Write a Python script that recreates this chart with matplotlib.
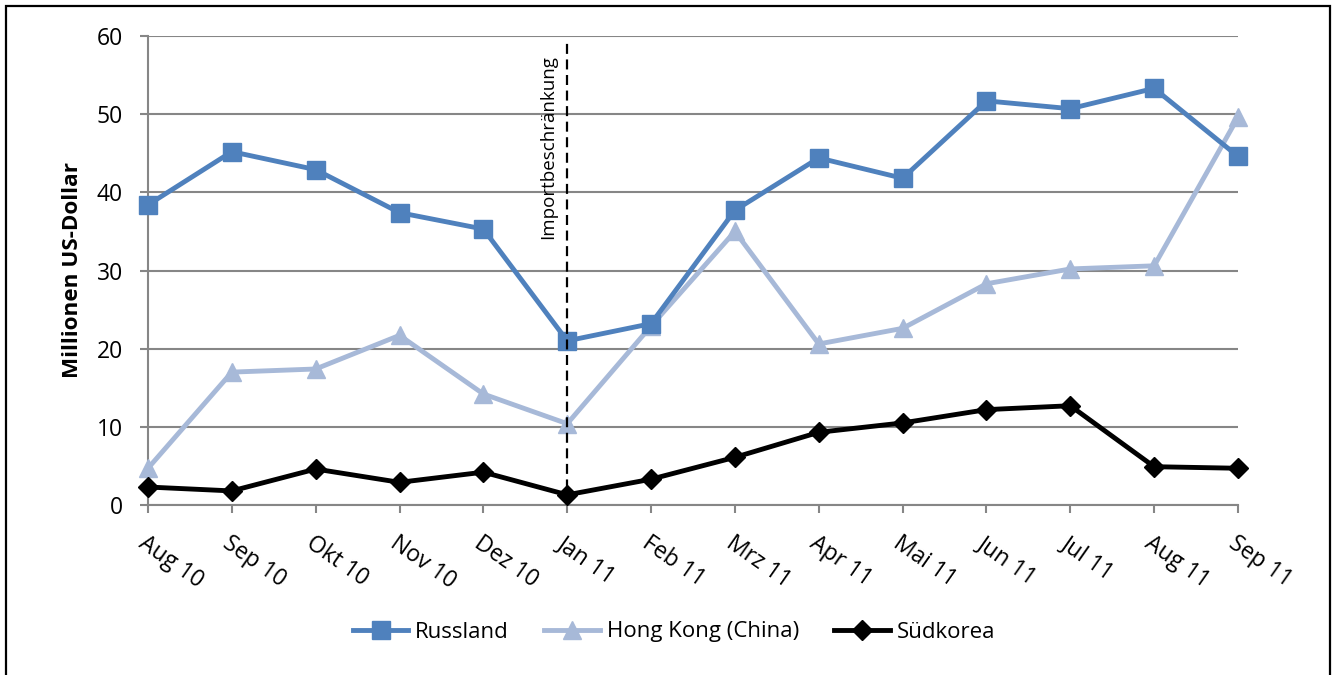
import matplotlib
matplotlib.use("Agg")
import matplotlib.pyplot as plt
from matplotlib.patches import Rectangle
import matplotlib.transforms as mtransforms

months = ["Aug 10", "Sep 10", "Okt 10", "Nov 10", "Dez 10", "Jan 11", "Feb 11",
          "Mrz 11", "Apr 11", "Mai 11", "Jun 11", "Jul 11", "Aug 11", "Sep 11"]
russland = [38.4, 45.2, 42.9, 37.4, 35.3, 21.0, 23.2, 37.7, 44.4, 41.8, 51.7, 50.7, 53.3, 44.6]
hongkong = [4.7, 17.0, 17.4, 21.7, 14.2, 10.4, 22.9, 35.0, 20.6, 22.6, 28.3, 30.2, 30.6, 49.6]
suedkorea = [2.3, 1.8, 4.6, 2.9, 4.2, 1.3, 3.3, 6.1, 9.3, 10.5, 12.2, 12.7, 4.9, 4.7]
yticks = [0, 10, 20, 30, 40, 50, 60]
event_label = "Importbeschränkung"
event_month = "Jan 11"

plt.rcParams['font.family'] = ['Open Sans', 'DejaVu Sans']

fig = plt.figure(figsize=(13.32, 6.75), dpi=100)
ax = fig.add_axes([148/1332, 1-505/675, (1238-148)/1332, (505-36)/675])

x = list(range(len(months)))
grid_c = "#868686"

ax.plot(x, russland, color="#4F81BD", lw=3.5, marker="s", ms=13.5, label="Russland",
        clip_on=False, zorder=4)
ax.plot(x, hongkong, color="#A7B9D8", lw=3.5, marker="^", ms=13, label="Hong Kong (China)",
        clip_on=False, zorder=3)
ax.plot(x, suedkorea, color="black", lw=3.5, marker="D", ms=10, label="Südkorea",
        clip_on=False, zorder=5)

ex = months.index(event_month)
ax.plot([ex, ex], [0, 59.5], color="black", lw=1.6, ls=(0, (4.5, 2.5)), zorder=6)
ax.text(ex - 0.12, 57.6, event_label, rotation=90, ha="right", va="top", fontsize=13.5)

ax.set_xlim(0, len(months) - 1)
ax.set_ylim(0, 60)
ax.set_yticks(yticks)
ax.set_yticklabels([str(v) for v in yticks], fontsize=16.5)
ax.set_xticks(x)
ax.set_xticklabels(months, fontsize=16.5, rotation=-35, ha="left", va="top",
                   rotation_mode="anchor")
offset = mtransforms.ScaledTranslation(5/100, 0, fig.dpi_scale_trans)
for lbl in ax.get_xticklabels():
    lbl.set_transform(lbl.get_transform() + offset)

ax.grid(axis="y", color=grid_c, lw=1.5)
ax.set_axisbelow(True)
for s in ["top", "right"]:
    ax.spines[s].set_visible(False)
for s in ["left", "bottom"]:
    ax.spines[s].set_color(grid_c)
    ax.spines[s].set_linewidth(1.5)
ax.tick_params(axis="y", length=6, width=1.5, color=grid_c, pad=12)
ax.tick_params(axis="x", length=6, width=1.5, color=grid_c, pad=13)

fig.text(73/1332, 1-270/675, "Millionen US-Dollar", rotation=90, ha="center",
         va="center", fontsize=16.2, fontweight="bold")

fig.legend(loc="center", bbox_to_anchor=(0.506, 1-632/675), ncol=3, frameon=False,
           fontsize=16, handlelength=2.5, columnspacing=1.6, handletextpad=0.3)

fig.patches.append(Rectangle((6/1332, -0.05), (1330-6)/1332, 1.05 - 6/675,
                             transform=fig.transFigure, fill=False, ec="black", lw=1.6))

fig.savefig("out.png", dpi=100)
